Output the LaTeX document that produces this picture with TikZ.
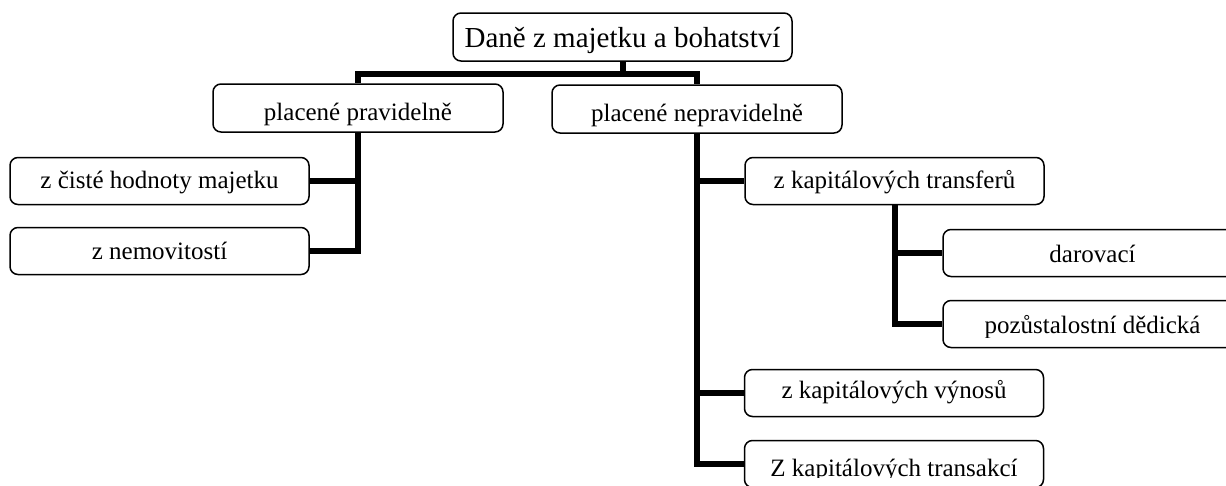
\documentclass[tikz,border=0pt]{standalone}
\usepackage{fontspec}
\setmainfont{Liberation Serif}
\usepackage{tikz}
\usetikzlibrary{positioning,calc}
\tikzset{
  tb/.style={draw, rounded corners=8pt, line width=1.5pt, fill=white,
             align=center, inner sep=0pt, minimum width=299pt, minimum height=47pt,
             text depth=6pt, text height=20pt, font=\fontsize{25}{30}\selectfont},
  ttop/.style={tb, minimum width=339pt, minimum height=48pt, text height=26pt,
             font=\fontsize{29}{34}\selectfont},
  tmid/.style={tb, minimum width=290pt, minimum height=48pt, text height=30pt},
  % text cut off near the bottom edge of the box
  tcut/.style n args={3}{tb, path picture={
      \clip (path picture bounding box.north west)
        rectangle ([yshift=#1]path picture bounding box.south east);
      \node[anchor=base, inner sep=0pt, font=\fontsize{25}{30}\selectfont]
        at ([yshift=-#2]path picture bounding box.center) {#3};}},
  ln/.style={line width=6pt, line join=miter},
}

\begin{document}
\begin{tikzpicture}[x=1pt, y=1pt]
  \useasboundingbox (0,0) rectangle (1226,-485);
  \node[ttop] (top) at (622.5,-37) {Daně z majetku a bohatství};
  \node[tmid] (prav) at (358,-108) {placené pravidelně};
  \node[tmid] (neprav) at (697,-109) {placené nepravidelně};
  \node[tb] (cisty) at (159.5,-181) {z čisté hodnoty majetku};
  \node[tb, text height=22pt] (nemov) at (159.5,-251) {z nemovitostí};
  \node[tb] (transf) at (894.5,-181) {z kapitálových transferů};
  \node[tb, text height=24pt] (darov) at (1092.5,-253) {darovací};
  \node[tcut={10.5pt}{9pt}{pozůstalostní dědická}] (pozust) at (1092.5,-324) {};
  \node[tb, text height=16pt] (vynos) at (894,-393) {z kapitálových výnosů};
  \node[tcut={10pt}{12.5pt}{Z kapitálových transakcí}] (transak) at (894,-464) {};
  % connectors
  \draw[ln] (top.south) -- ++(0,-12) coordinate (split) -| (prav.north);
  \draw[ln] (split) -| (neprav.north);
  \draw[ln] (prav.south) |- (cisty.east);
  \draw[ln] (prav.south) |- (nemov.east);
  \draw[ln] (neprav.south) |- (transf.west);
  \draw[ln] (neprav.south) |- (vynos.west);
  \draw[ln] (neprav.south) |- (transak.west);
  \draw[ln] (transf.south) |- (darov.west);
  \draw[ln] (transf.south) |- (pozust.west);
\end{tikzpicture}
\end{document}
